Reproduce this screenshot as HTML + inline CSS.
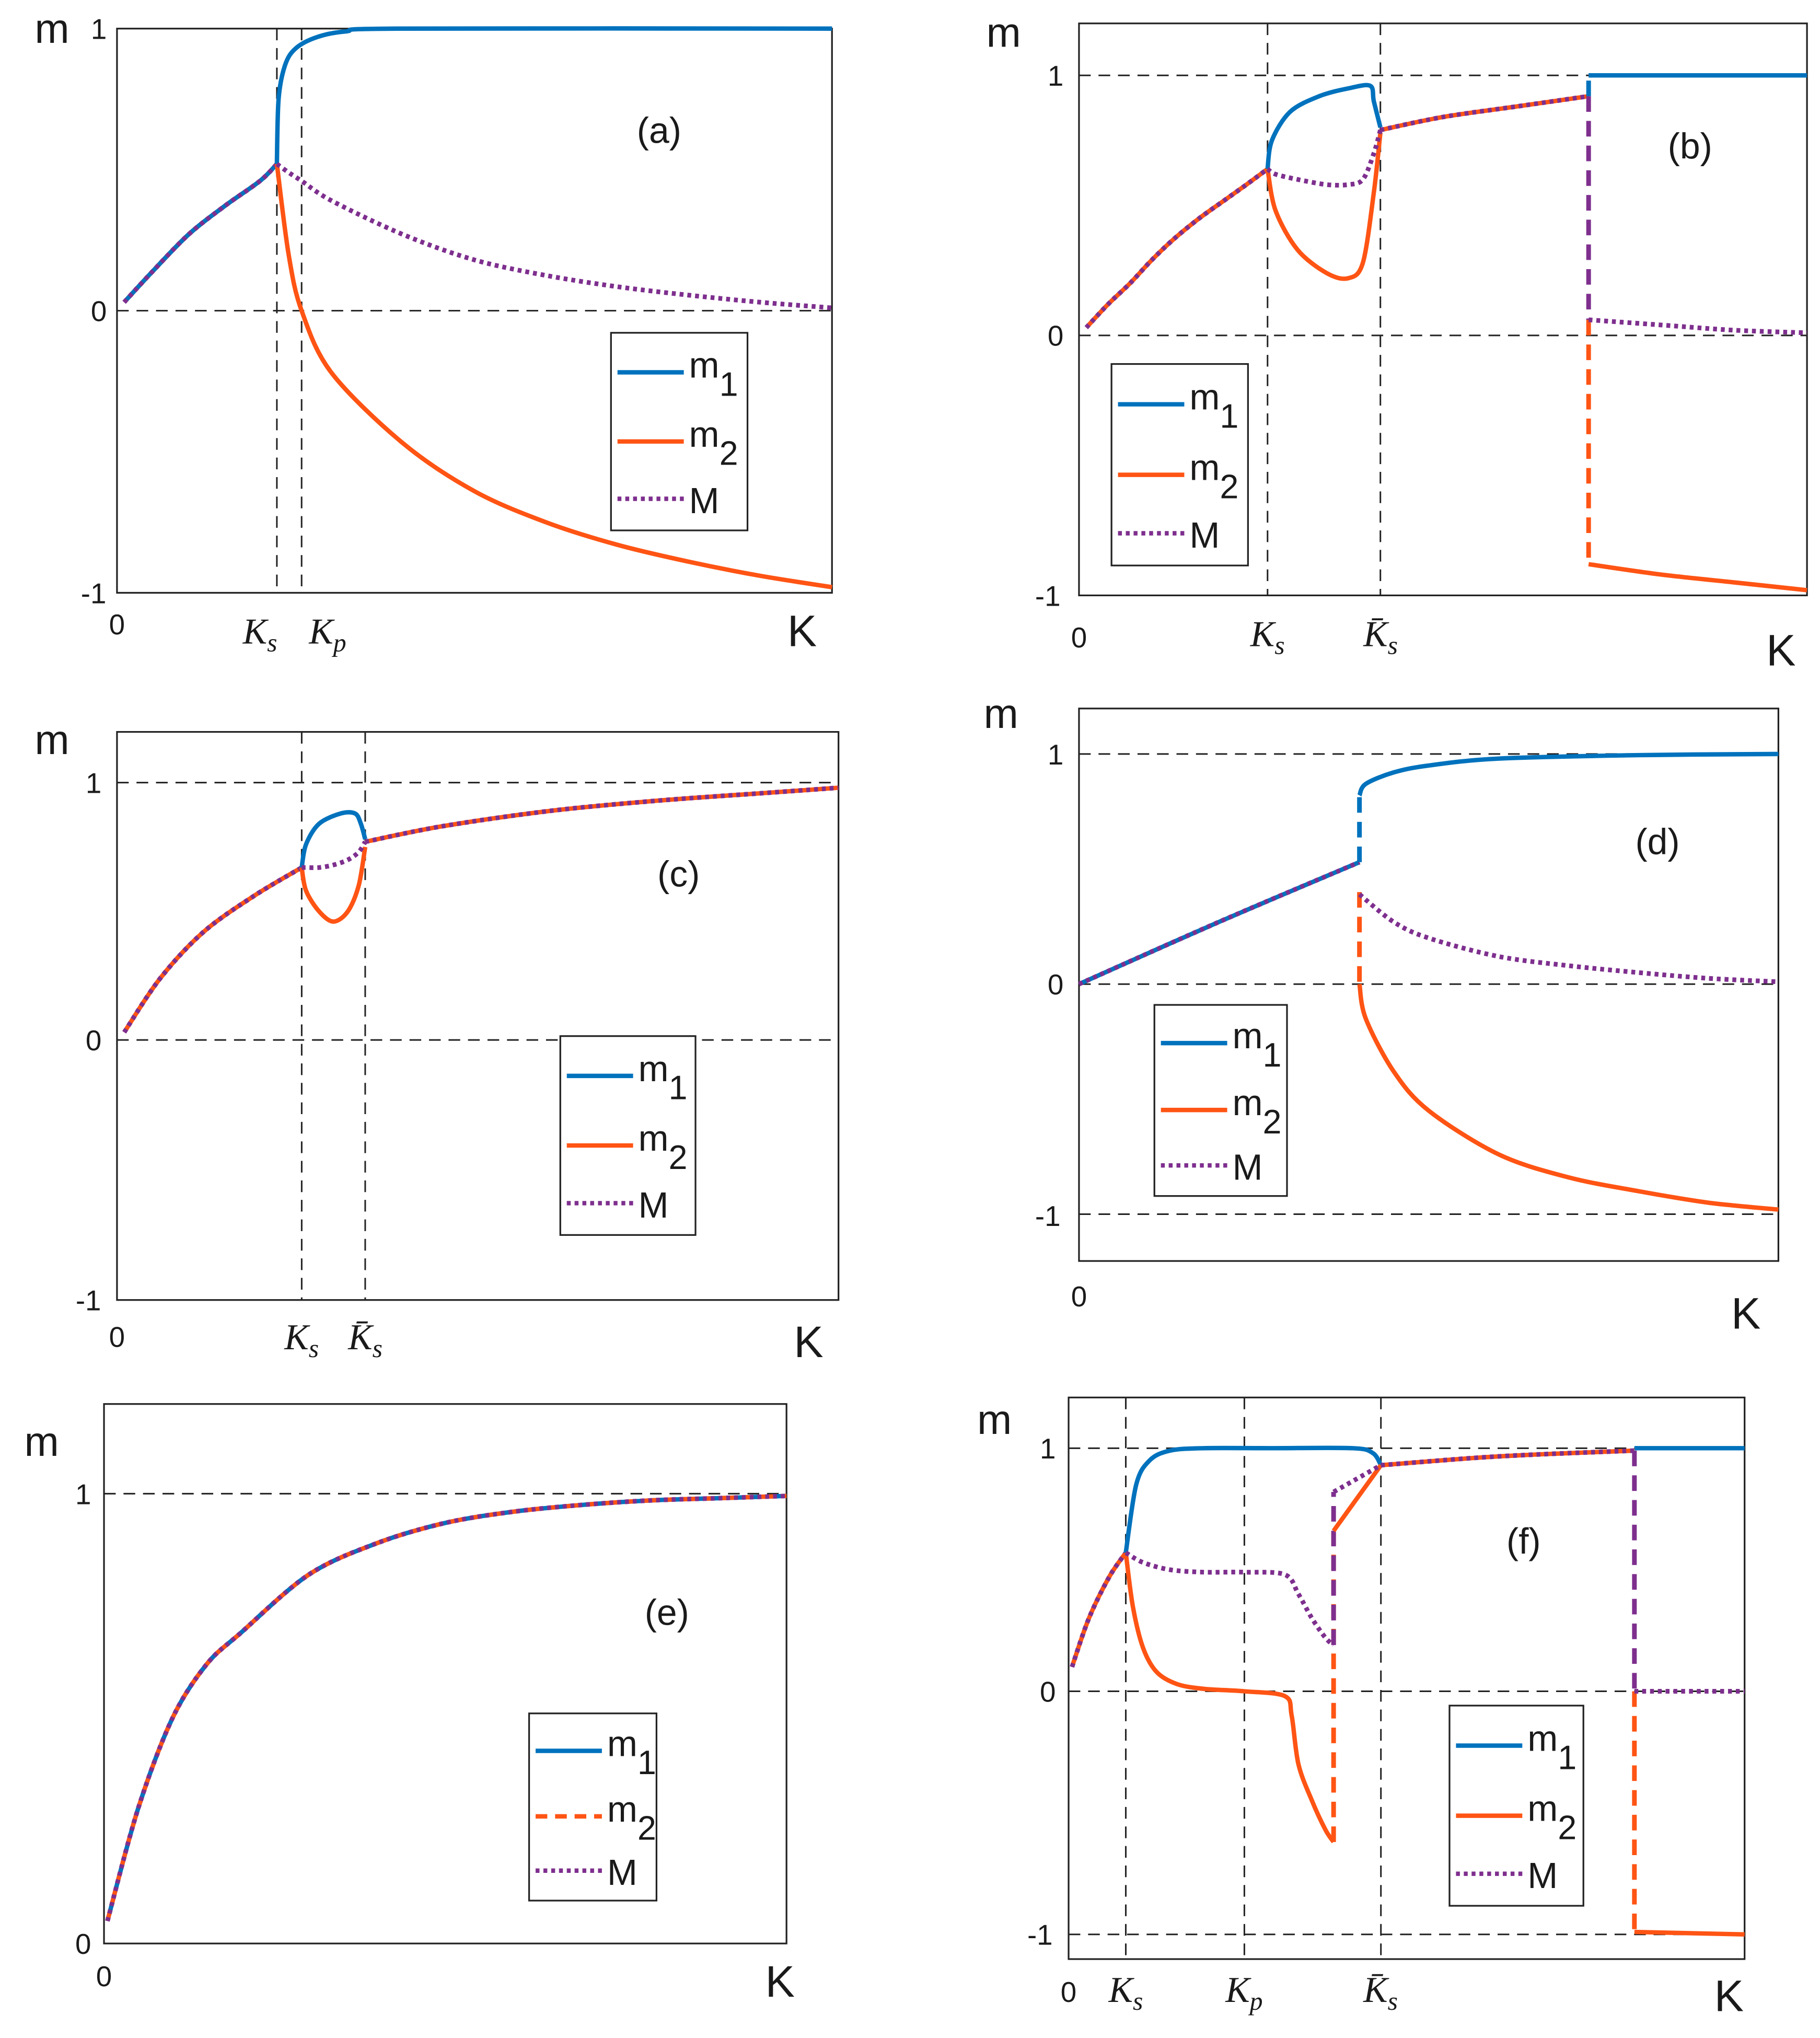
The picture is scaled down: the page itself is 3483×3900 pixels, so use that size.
<!DOCTYPE html>
<html><head><meta charset="utf-8"><style>
html,body{margin:0;padding:0;background:#fff}
svg{display:block}
text{font-family:"Liberation Sans",sans-serif;fill:#1a1a1a}
.tick{font-size:22px}
.ax{font-size:32px}
.kl{font-size:34px}
.it{font-family:"Liberation Serif",serif;font-style:italic;font-size:28px}
.lab{font-size:28px}
.leg{font-size:28px}
</style></head><body>
<svg id="fig" width="3483" height="3900" viewBox="0 0 1400 1567.7" preserveAspectRatio="none" xmlns="http://www.w3.org/2000/svg"></svg>
<script>
// ---------- data (K as fraction of axis width, m values) ----------
// panel a
const aPreK=[0.01,0.05,0.1,0.15,0.2,0.2236];
const aPreM=[0.03,0.14,0.27,0.37,0.46,0.52];
const aM1K=[0.2236,0.226,0.235,0.25,0.28,0.32,0.4,1];
const aM1=[0.52,0.75,0.87,0.93,0.97,0.99,1,1];
const aM2K=[0.2236,0.24,0.2582,0.3,0.4,0.5,0.6,0.7,0.8,0.9,1];
const aM2=[0.52,0.2,0,-0.22,-0.47,-0.64,-0.75,-0.83,-0.89,-0.94,-0.98];
const aMM=[0.52,0.49,0.46,0.39,0.27,0.18,0.125,0.085,0.055,0.03,0.01];
// panel b
const bPreK=[0.01,0.04,0.07,0.1,0.13,0.165,0.2,0.23,0.259];
const bPreM=[0.03,0.12,0.2,0.29,0.37,0.45,0.52,0.58,0.64];
const bM1K=[0.259,0.265,0.29,0.33,0.37,0.4,0.405,0.414];
const bM1=[0.64,0.75,0.86,0.92,0.95,0.96,0.9,0.8];
const bM2K=[0.259,0.27,0.3,0.34,0.37,0.39,0.405,0.414];
const bM2=[0.64,0.48,0.33,0.24,0.22,0.28,0.55,0.78];
const bMM=[0.64,0.62,0.6,0.58,0.58,0.6,0.7,0.79];
const bMidK=[0.414,0.5,0.6,0.7];
const bMid=[0.79,0.84,0.88,0.92];
const bPostK=[0.7,0.8,0.9,1];
const bPostM1=[1,1,1,1];
const bPostM2=[-0.88,-0.92,-0.95,-0.98];
const bPostMM=[0.06,0.04,0.02,0.01];
// panel c
const cPreK=[0.01,0.06,0.12,0.19,0.256];
const cPreM=[0.03,0.24,0.42,0.56,0.67];
const cM1K=[0.256,0.262,0.28,0.31,0.33,0.338,0.344];
const cM1=[0.67,0.76,0.84,0.88,0.88,0.84,0.78];
const cM2K=[0.256,0.262,0.28,0.3,0.32,0.335,0.344];
const cM2=[0.67,0.58,0.5,0.46,0.5,0.6,0.75];
const cMM=[0.67,0.67,0.67,0.68,0.7,0.73,0.77];
const cPostK=[0.344,0.45,0.6,0.75,0.9,1];
const cPost=[0.77,0.83,0.89,0.93,0.96,0.98];
// panel d
const dPreK=[0,0.2,0.401];
const dPre=[0,0.27,0.53];
const dM1K=[0.401,0.41,0.45,0.5,0.6,0.8,1];
const dM1=[0.82,0.87,0.92,0.95,0.98,0.995,1];
const dM2K=[0.401,0.41,0.45,0.5,0.6,0.7,0.8,0.9,1];
const dM2=[0,-0.15,-0.38,-0.55,-0.74,-0.84,-0.9,-0.95,-0.98];
const dMMK=[0.401,0.45,0.5,0.6,0.7,0.8,0.9,1];
const dMM=[0.39,0.27,0.2,0.12,0.08,0.05,0.025,0.01];
// panel e
const eK=[0.005,0.05,0.1,0.15,0.2,0.3,0.4,0.5,0.6,0.7,0.8,0.9,1];
const eM=[0.05,0.3,0.5,0.62,0.69,0.82,0.89,0.935,0.96,0.975,0.985,0.99,0.995];
// panel f
const fPreK=[0.005,0.03,0.06,0.0846];
const fPre=[0.1,0.3,0.47,0.57];
const fM1K=[0.0846,0.1,0.12,0.15,0.2,0.3,0.42,0.45,0.462];
const fM1=[0.57,0.85,0.95,0.99,1,1,1,0.98,0.93];
const fM2K=[0.0846,0.095,0.11,0.13,0.16,0.2,0.26,0.32,0.33,0.34,0.36,0.38,0.392];
const fM2=[0.57,0.35,0.18,0.08,0.03,0.01,0,-0.02,-0.1,-0.3,-0.45,-0.57,-0.62];
const fMMK=[0.0846,0.11,0.15,0.2,0.26,0.32,0.34,0.36,0.38,0.392];
const fMM=[0.57,0.53,0.5,0.49,0.49,0.48,0.4,0.3,0.22,0.19];
const fM2bK=[0.392,0.462];
const fM2b=[0.66,0.93];
const fMMbK=[0.392,0.462];
const fMMb=[0.82,0.93];
const fMidK=[0.462,0.6,0.7,0.837];
const fMid=[0.93,0.96,0.975,0.99];
const fPostK=[0.837,1];
const fPostM1=[1,1];
const fPostM2=[-0.99,-1];
const fPostMM=[0,0];

const BLUE="#0072BD",ORANGE="#FF5414",PURPLE="#7E2F8E";
const NS="http://www.w3.org/2000/svg";
const svg=document.getElementById('fig');
function el(tag,attrs,parent){const e=document.createElementNS(NS,tag);for(const k in attrs)e.setAttribute(k,attrs[k]);(parent||svg).appendChild(e);return e;}
function mkAxes(p){
  p.xs=k=>p.x0+k*(p.x1-p.x0);
  p.ys=m=>p.y0-m*(p.y0-p.y1);
  return p;
}
function styleOf(s){if(s==='dash')return '9,6';if(s==='dot')return '3,3';return 'none';}
function smoothPath(pts){
  if(pts.length<3){return pts.map((q,i)=>(i?'L':'M')+q[0].toFixed(2)+','+q[1].toFixed(2)).join('');}
  let d='M'+pts[0][0].toFixed(2)+','+pts[0][1].toFixed(2);
  for(let i=0;i<pts.length-1;i++){
    const p0=pts[Math.max(0,i-1)],p1=pts[i],p2=pts[i+1],p3=pts[Math.min(pts.length-1,i+2)];
    const t=0.16;
    const c1=[p1[0]+(p2[0]-p0[0])*t,p1[1]+(p2[1]-p0[1])*t];
    const c2=[p2[0]-(p3[0]-p1[0])*t,p2[1]-(p3[1]-p1[1])*t];
    d+='C'+c1[0].toFixed(2)+','+c1[1].toFixed(2)+' '+c2[0].toFixed(2)+','+c2[1].toFixed(2)+' '+p2[0].toFixed(2)+','+p2[1].toFixed(2);
  }
  return d;
}
function curve(p,ks,ms,color,style,name){
  const pts=ks.map((k,i)=>[p.xs(k),p.ys(ms[i])]);
  const e=el('path',{d:smoothPath(pts),fill:'none',stroke:color,'stroke-width':style==='dot'?3.6:3.4,'stroke-dasharray':styleOf(style),'stroke-linejoin':'round'},p.g);
  
  
}
function vjump(p,k,m0,m1,color,name){
  const e=el('line',{x1:p.xs(k),x2:p.xs(k),y1:p.ys(m0),y2:p.ys(m1),stroke:color,'stroke-width':3.6,'stroke-dasharray':'12,7'},p.g);
  
  
}
function guideH(p,m){const e=el('line',{x1:p.x0,x2:p.x1,y1:p.ys(m),y2:p.ys(m),stroke:'#222','stroke-width':1.2,'stroke-dasharray':'9,6'},p.g);
  
  }
function guideV(p,k){const e=el('line',{x1:p.xs(k),x2:p.xs(k),y1:p.top,y2:p.bot,stroke:'#222','stroke-width':1.2,'stroke-dasharray':'9,6'},p.g);
  
  }
function txt(p,x,y,s,cls,name,anchor){const e=el('text',{x:x,y:y,class:cls,'text-anchor':anchor||'middle'},p.g);e.textContent=s;
  
  return e;}
function ktxt(p,x,y,main,sub,bar,name){
  const e=el('text',{x:x,y:y,class:'it','text-anchor':'middle'},p.g);
  
  
  const t1=el('tspan',{},e);t1.textContent=bar?'K\u0304':'K';
  const t2=el('tspan',{dy:6,'font-size':20},e);t2.textContent=sub;
}
function panel(cfg){
  const p=mkAxes(cfg);
  p.g=el('g',{});
  
  
  const r=el('rect',{x:p.x0,y:p.top,width:p.x1-p.x0,height:p.bot-p.top,fill:'none',stroke:'#222','stroke-width':1.3},p.g);
  
  
  return p;
}
function legend(p,x,y,w,h,m2style){
  const g=el('g',{},p.g);
  
  
  const r=el('rect',{x:x,y:y,width:w,height:h,fill:'#fff',stroke:'#222','stroke-width':1.3},g);
  
  
  const rows=[[BLUE,'solid','m','1'],[ORANGE,m2style,'m','2'],[PURPLE,'dot','M','']];
  const fr=[0.2,0.55,0.84];
  rows.forEach((rw,i)=>{
    const cy=y+h*fr[i];
    const ln=el('line',{x1:x+5,x2:x+56,y1:cy,y2:cy,stroke:rw[0],'stroke-width':3.4,'stroke-dasharray':styleOf(rw[1])},g);
    
    
    const t=el('text',{x:x+60,y:cy+(rw[3]?4:11),class:'leg'},g);
    
    
    const a=el('tspan',{},t);a.textContent=rw[2];
    if(rw[3]){const b=el('tspan',{dy:14,'font-size':26},t);b.textContent=rw[3];}
  });
}

// ---- panel a ----
(function(){
 const p=panel({id:'a',x0:90,x1:640,top:22,bot:456,y1:22,y0:239});
 guideH(p,0);guideV(p,0.2236);guideV(p,0.2582);
 curve(p,aPreK,aPreM,ORANGE,'solid','pre-split-m2');
 curve(p,aPreK,aPreM,BLUE,'solid','pre-split-m1');
 curve(p,aPreK,aPreM,PURPLE,'dot','pre-split-M');
 curve(p,aM1K,aM1,BLUE,'solid','series-m1');
 curve(p,aM2K,aM2,ORANGE,'solid','series-m2');
 curve(p,aM2K,aMM,PURPLE,'dot','series-M');
 txt(p,40,33,'m','ax','y-axis-title');
 txt(p,76,30,'1','tick','y-tick-1');txt(p,76,247,'0','tick','y-tick-0');txt(p,72,464,'-1','tick','y-tick-neg1');
 txt(p,90,488,'0','tick','x-tick-0');
 txt(p,617,497,'K','kl','x-axis-title');
 ktxt(p,200,495,'K','s',false,'ks-label');ktxt(p,252,495,'K','p',false,'kp-label');
 txt(p,507,110,'(a)','lab','panel-label');
 legend(p,470,256,105,152,'solid');
})();
// ---- panel b ----
(function(){
 const p=panel({id:'b',x0:830,x1:1390,top:18,bot:458,y1:58,y0:258});
 guideH(p,1);guideH(p,0);guideV(p,0.259);guideV(p,0.414);
 curve(p,bPreK,bPreM,ORANGE,'solid','pre-split-m2');
 curve(p,bPreK,bPreM,PURPLE,'dot','pre-split-M');
 curve(p,bM1K,bM1,BLUE,'solid','series-m1');
 curve(p,bM2K,bM2,ORANGE,'solid','series-m2');
 curve(p,bM2K,bMM,PURPLE,'dot','series-M');
 curve(p,bMidK,bMid,ORANGE,'solid','merged-m2');
 curve(p,bMidK,bMid,PURPLE,'dot','merged-M');
 vjump(p,0.7,0.92,1,BLUE,'jump-m1');
 vjump(p,0.7,0.92,0.06,PURPLE,'jump-M');
 vjump(p,0.7,0.06,-0.88,ORANGE,'jump-m2');
 curve(p,bPostK,bPostM1,BLUE,'solid','post-m1');
 curve(p,bPostK,bPostM2,ORANGE,'solid','post-m2');
 curve(p,bPostK,bPostMM,PURPLE,'dot','post-M');
 txt(p,772,36,'m','ax','y-axis-title');
 txt(p,812,66,'1','tick','y-tick-1');txt(p,812,266,'0','tick','y-tick-0');txt(p,806,466,'-1','tick','y-tick-neg1');
 txt(p,830,498,'0','tick','x-tick-0');
 txt(p,1370,512,'K','kl','x-axis-title');
 ktxt(p,975,497,'K','s',false,'ks-label');ktxt(p,1062,497,'K','s',true,'ks-bar-label');
 txt(p,1300,122,'(b)','lab','panel-label');
 legend(p,855,280,105,155,'solid');
})();
// ---- panel c ----
(function(){
 const p=panel({id:'c',x0:90,x1:645,top:563,bot:1000,y1:602,y0:800});
 guideH(p,1);guideH(p,0);guideV(p,0.256);guideV(p,0.344);
 curve(p,cPreK,cPreM,ORANGE,'solid','pre-split-m2');
 curve(p,cPreK,cPreM,PURPLE,'dot','pre-split-M');
 curve(p,cM1K,cM1,BLUE,'solid','series-m1');
 curve(p,cM2K,cM2,ORANGE,'solid','series-m2');
 curve(p,cM2K,cMM,PURPLE,'dot','series-M');
 curve(p,cPostK,cPost,ORANGE,'solid','merged-m2');
 curve(p,cPostK,cPost,PURPLE,'dot','merged-M');
 txt(p,40,580,'m','ax','y-axis-title');
 txt(p,72,610,'1','tick','y-tick-1');txt(p,72,808,'0','tick','y-tick-0');txt(p,68,1008,'-1','tick','y-tick-neg1');
 txt(p,90,1036,'0','tick','x-tick-0');
 txt(p,622,1044,'K','kl','x-axis-title');
 ktxt(p,232,1038,'K','s',false,'ks-label');ktxt(p,281,1038,'K','s',true,'ks-bar-label');
 txt(p,522,682,'(c)','lab','panel-label');
 legend(p,431,797,104,153,'solid');
})();
// ---- panel d ----
(function(){
 const p=panel({id:'d',x0:830,x1:1368,top:545,bot:970,y1:580,y0:757});
 guideH(p,1);guideH(p,0);guideH(p,-1);
 curve(p,dPreK,dPre,BLUE,'solid','pre-split-m1');
 curve(p,dPreK,dPre,PURPLE,'dot','pre-split-M');
 vjump(p,0.401,0.53,0.82,BLUE,'jump-m1');
 vjump(p,0.401,0.4,0,ORANGE,'jump-m2');
 curve(p,dM1K,dM1,BLUE,'solid','series-m1');
 curve(p,dM2K,dM2,ORANGE,'solid','series-m2');
 curve(p,dMMK,dMM,PURPLE,'dot','series-M');
 txt(p,770,560,'m','ax','y-axis-title');
 txt(p,812,588,'1','tick','y-tick-1');txt(p,812,765,'0','tick','y-tick-0');txt(p,806,943,'-1','tick','y-tick-neg1');
 txt(p,830,1005,'0','tick','x-tick-0');
 txt(p,1343,1022,'K','kl','x-axis-title');
 txt(p,1275,657,'(d)','lab','panel-label');
 legend(p,888,773,102,147,'solid');
})();
// ---- panel e ----
(function(){
 const p=panel({id:'e',x0:80,x1:605,top:1080,bot:1495,y1:1149,y0:1495});
 guideH(p,1);
 curve(p,eK,eM,BLUE,'solid','series-m1');
 curve(p,eK,eM,ORANGE,'dash','series-m2');
 curve(p,eK,eM,PURPLE,'dot','series-M');
 txt(p,32,1120,'m','ax','y-axis-title');
 txt(p,64,1157,'1','tick','y-tick-1');txt(p,64,1503,'0','tick','y-tick-0');
 txt(p,80,1528,'0','tick','x-tick-0');
 txt(p,600,1536,'K','kl','x-axis-title');
 txt(p,513,1550,'(e)','lab','panel-label').setAttribute('y',1250);
 legend(p,407,1318,98,144,'dash');
})();
// ---- panel f ----
(function(){
 const p=panel({id:'f',x0:822,x1:1342,top:1075,bot:1507,y1:1114,y0:1301});
 guideH(p,1);guideH(p,0);guideH(p,-1);guideV(p,0.0846);guideV(p,0.26);guideV(p,0.462);
 curve(p,fPreK,fPre,ORANGE,'solid','pre-split-m2');
 curve(p,fPreK,fPre,PURPLE,'dot','pre-split-M');
 curve(p,fM1K,fM1,BLUE,'solid','series-m1');
 curve(p,fM2K,fM2,ORANGE,'solid','series-m2');
 curve(p,fMMK,fMM,PURPLE,'dot','series-M');
 vjump(p,0.392,-0.62,0.66,ORANGE,'jump1-m2');
 vjump(p,0.392,0.19,0.82,PURPLE,'jump1-M');
 curve(p,fM2bK,fM2b,ORANGE,'solid','series-m2-b');
 curve(p,fMMbK,fMMb,PURPLE,'dot','series-M-b');
 curve(p,fMidK,fMid,ORANGE,'solid','merged-m2');
 curve(p,fMidK,fMid,PURPLE,'dot','merged-M');
 vjump(p,0.837,0.99,0,PURPLE,'jump2-M');
 vjump(p,0.837,0,-0.99,ORANGE,'jump2-m2');
 curve(p,fPostK,fPostM1,BLUE,'solid','post-m1');
 curve(p,fPostK,fPostM2,ORANGE,'solid','post-m2');
 curve(p,fPostK,fPostMM,PURPLE,'dot','post-M');
 txt(p,765,1103,'m','ax','y-axis-title');
 txt(p,806,1122,'1','tick','y-tick-1');txt(p,806,1309,'0','tick','y-tick-0');txt(p,800,1496,'-1','tick','y-tick-neg1');
 txt(p,822,1540,'0','tick','x-tick-0');
 txt(p,1330,1547,'K','kl','x-axis-title');
 ktxt(p,866,1540,'K','s',false,'ks-label');ktxt(p,957,1540,'K','p',false,'kp-label');ktxt(p,1062,1540,'K','s',true,'ks-bar-label');
 txt(p,1172,1195,'(f)','lab','panel-label');
 legend(p,1115,1312,103,154,'solid');
})();
</script>
</body></html>
